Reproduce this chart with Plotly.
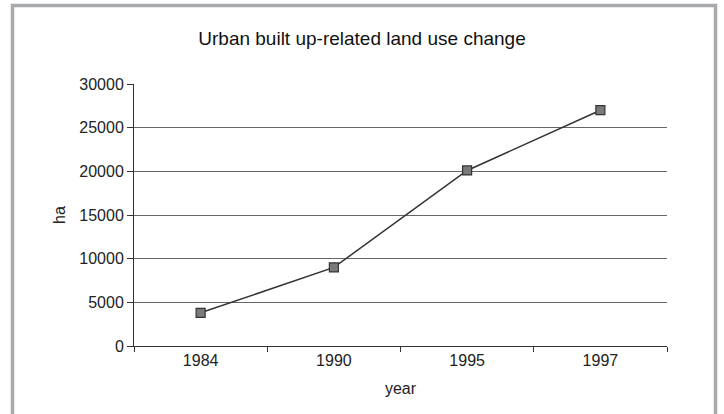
import plotly.graph_objects as go

years = ["1984", "1990", "1995", "1997"]
hectares = [3800, 9000, 20100, 27000]
y_ticks = [0, 5000, 10000, 15000, 20000, 25000, 30000]
y_tick_labels = ["0", "5000", "10000", "15000", "20000", "25000", "30000"]

W, H = 724, 414
L, R, T, B = 134, 57, 84, 68
pw, ph = W - L - R, H - T - B

def px_x(p):
    return (p - L) / pw

def px_y(p):
    return (H - B - p) / ph

fig = go.Figure()
fig.add_trace(go.Scatter(
    x=years, y=hectares, mode="lines+markers",
    line=dict(color="#333333", width=1.5),
    marker=dict(symbol="square", size=9, color="#7a7a7a",
                line=dict(color="#333333", width=1.2)),
    showlegend=False,
))

font = "Liberation Sans, Arial, sans-serif"
fig.update_layout(
    width=W, height=H,
    margin=dict(l=L, r=R, t=T, b=B),
    paper_bgcolor="white", plot_bgcolor="white",
    font=dict(family=font, size=16, color="#222222"),
    title=dict(text="Urban built up-related land use change",
               x=0.5, xanchor="center", y=1 - 38 / H, yanchor="middle",
               font=dict(size=19, color="#111111", family=font)),
    xaxis=dict(
        type="category", tickson="boundaries", ticks="outside", ticklen=5,
        tickcolor="#333333", showline=True, linecolor="#333333", linewidth=1,
        showgrid=False, range=[-0.5, 3.5],
        title=dict(text="year", font=dict(size=16), standoff=14),
        tickfont=dict(size=16),
    ),
    yaxis=dict(
        range=[0, 30000], tickvals=y_ticks, ticktext=y_tick_labels,
        ticks="outside", ticklen=6,
        tickcolor="#333333", showline=True, linecolor="#333333", linewidth=1,
        showgrid=True, gridcolor="#666666", gridwidth=1, zeroline=False,
        title=dict(text="ha", font=dict(size=16), standoff=9),
        tickfont=dict(size=16),
    ),
    shapes=[dict(
        type="path", xref="paper", yref="paper",
        path=f"M {px_x(12.5)},{px_y(420)} L {px_x(12.5)},{px_y(5.5)} "
             f"L {px_x(715.5)},{px_y(5.5)} L {px_x(715.5)},{px_y(420)}",
        line=dict(color="#a9aaad", width=3.5),
    )],
)

fig.write_html("out.html")
